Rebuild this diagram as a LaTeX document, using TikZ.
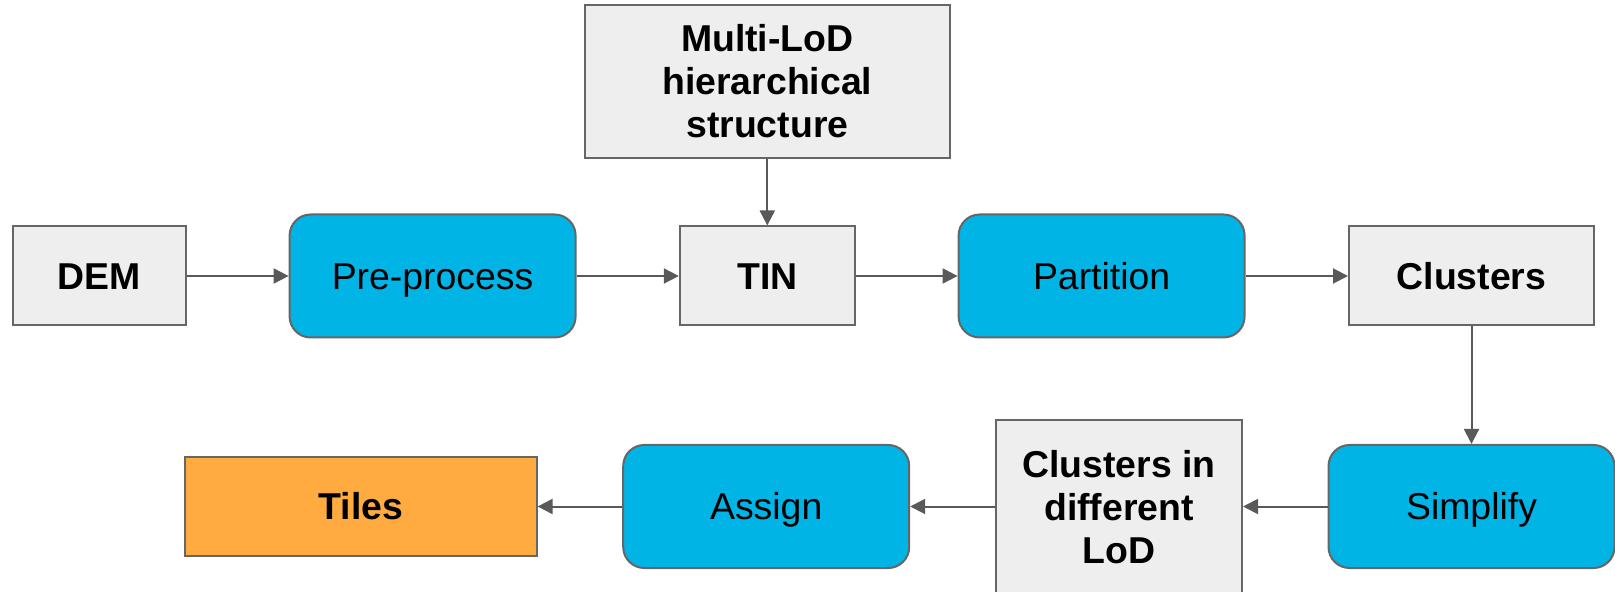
\documentclass[tikz,border=0pt]{standalone}
\usepackage{fontspec}
\setmainfont{Liberation Sans}
\usetikzlibrary{arrows.meta}
\definecolor{boxgray}{HTML}{EEEEEE}
\definecolor{edgegray}{HTML}{666666}
\definecolor{linkgray}{HTML}{595959}
\definecolor{stepblue}{HTML}{00B4E6}
\definecolor{tileorange}{HTML}{FFAB40}
\tikzset{
  base/.style={draw=edgegray, line width=1pt, align=center, inner sep=0pt,
    font=\fontsize{18.7}{21.5}\selectfont},
  oneline/.style={text height=13.4pt, text depth=0pt},
  databox/.style={base, fill=boxgray, font=\fontsize{18.7}{21.5}\selectfont\bfseries},
  stepbox/.style={base, oneline, fill=stepblue, rounded corners=10.5pt,
    minimum width=143pt, minimum height=61.5pt},
  outbox/.style={base, oneline, fill=tileorange, font=\fontsize{18.7}{21.5}\selectfont\bfseries},
  link/.style={draw=linkgray, line width=1pt,
    -{Triangle[length=7.5pt,width=7.5pt]}}
}
\begin{document}
\begin{tikzpicture}[x=0.5pt,y=-0.5pt]
  \useasboundingbox (0,0) rectangle (1615,592);
  % top row
  \node[databox, oneline, minimum width=86.5pt, minimum height=49.5pt] (dem) at (99,276) {DEM};
  \node[stepbox] (pre) at (432.6,276) {Pre-process};
  \node[databox, oneline, minimum width=87.5pt, minimum height=49.5pt] (tin) at (767.3,276) {TIN};
  \node[stepbox] (part) at (1101.6,276) {Partition};
  \node[databox, oneline, minimum width=122.5pt, minimum height=49.5pt] (clu) at (1471.5,276) {Clusters};
  % hierarchy input
  \node[databox, minimum width=182.8pt, minimum height=76.2pt] (multi) at (767.3,81.4)
    {Multi-LoD\\hierarchical\\structure};
  % bottom row
  \node[stepbox] (simp) at (1471.5,506.5) {Simplify};
  \node[databox, minimum width=123pt, minimum height=87pt] (lod) at (1119,507)
    {Clusters in\\different\\LoD};
  \node[stepbox] (assign) at (766.2,506.5) {Assign};
  \node[outbox, minimum width=175.6pt, minimum height=49.5pt] (tiles) at (361,506.5) {Tiles};
  % connectors
  \draw[link] (dem) -- (pre);
  \draw[link] (pre) -- (tin);
  \draw[link] (tin) -- (part);
  \draw[link] (part) -- (clu);
  \draw[link] (multi) -- (tin);
  \draw[link] (clu) -- (simp);
  \draw[link] (simp.west) -- (lod.east |- simp.west);
  \draw[link] (lod.west |- assign.east) -- (assign.east);
  \draw[link] (assign) -- (tiles);
\end{tikzpicture}
\end{document}
